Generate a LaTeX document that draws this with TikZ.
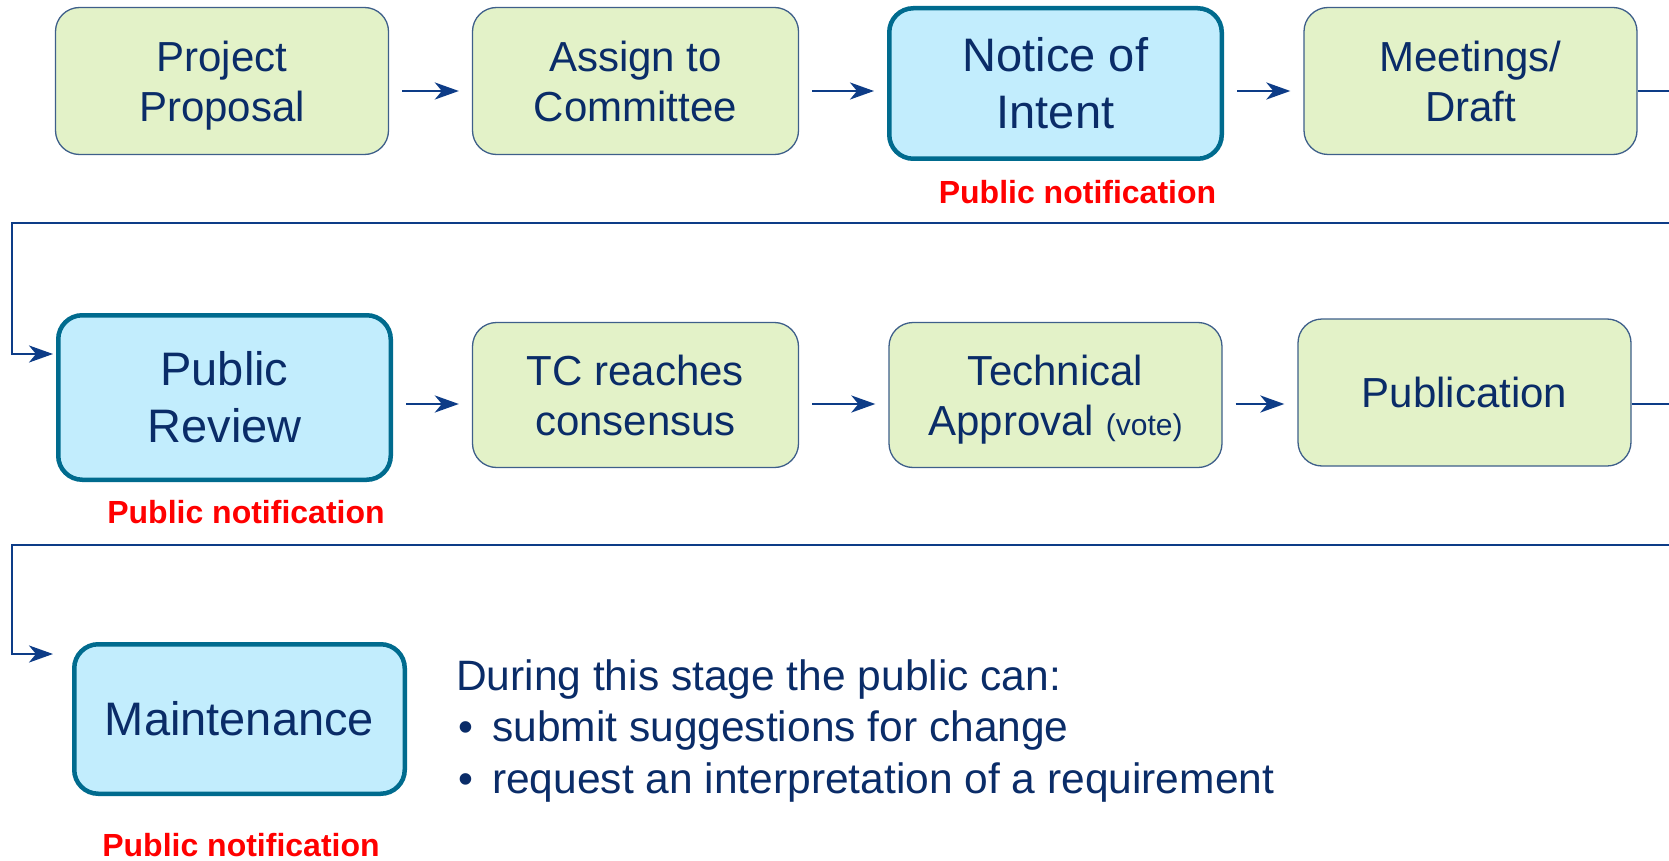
\documentclass[tikz,border=0pt]{standalone}
\usepackage{fontspec}
\setmainfont{Liberation Sans}
\usepackage{tikz}
\usetikzlibrary{arrows.meta}
\definecolor{stagegreen}{HTML}{E3F2C8}
\definecolor{stageline}{HTML}{3E5F8A}
\definecolor{pubblue}{HTML}{C2EDFD}
\definecolor{publine}{HTML}{006B8E}
\definecolor{navytext}{HTML}{0A2C68}
\definecolor{flowblue}{HTML}{0D3C87}

\begin{document}
\begin{tikzpicture}[x=1pt,y=-1pt,
	stage/.style={draw=stageline, line width=1.3pt, fill=stagegreen, rounded corners=24pt, minimum width=333pt, minimum height=147pt, inner sep=0pt, align=center, text=navytext, font=\fontsize{42}{50}\selectfont},
	pubstage/.style={stage, draw=publine, line width=4.5pt, fill=pubblue, font=\fontsize{47}{57}\selectfont},
	notif/.style={text=red, inner sep=0pt, font=\bfseries\fontsize{32}{37}\selectfont},
	flow/.style={draw=flowblue, line width=2.8pt, -{Stealth[length=24pt,width=17pt,inset=7pt]}},
	hop/.style={shorten <=13pt, shorten >=13pt}]
	\clip (0,0) rectangle (1669,861);
	% First row
	\node[stage, minimum width=333pt] (prop) at (222,81) {Project\\\smash{Proposal}};
	\node[stage, minimum width=326pt] (assign) at (635.5,81) {Assign to\\Committee};
	\node[pubstage, minimum width=332.5pt, minimum height=150.5pt] (notice) at (1055.5,83.5) {Notice of\\Intent};
	\node[stage] (meet) at (1470.5,81) {Meetings/\\Draft};
	% Second row
	\node[pubstage, minimum width=332.5pt, minimum height=164.5pt] (review) at (224.5,397.5) {Public\\Review};
	\node[stage, minimum width=326pt, minimum height=145pt] (tc) at (635.5,395) {TC reaches\\consensus};
	\node[stage, minimum height=145pt] (tech) at (1055.5,395) {Technical\\\smash{Approval {\fontsize{30}{36}\selectfont(vote)}}};
	\node[stage] (pub) at (1464.5,392.5) {Publication};
	% Third row
	\node[pubstage, minimum width=330.5pt, minimum height=149.5pt] (maint) at (239.5,719) {Maintenance};
	\node[anchor=north west, inner sep=0pt, align=left, text=navytext, font=\fontsize{42.5}{51.5}\selectfont] (remarks) at (456,659) {During this stage the public can:\\\makebox[36pt][l]{\hspace{2pt}•}submit suggestions for change\\\makebox[36pt][l]{\hspace{2pt}•}request an interpretation of a requirement};
	% Notifications
	\node[notif] (note1) at (1077.5,192) {Public notification};
	\node[notif] (note2) at (246,512) {Public notification};
	\node[notif] (note3) at (241,845) {Public notification};
	% Arrows
	\coordinate (lane1) at (0,91);
	\coordinate (lane2) at (0,404);
	\draw[flow, hop] (prop.east |- lane1) -- (assign.west |- lane1);
	\draw[flow, hop] (assign.east |- lane1) -- (notice.west |- lane1);
	\draw[flow, hop] (notice.east |- lane1) -- (meet.west |- lane1);
	\draw[flow, hop] (review.east |- lane2) -- (tc.west |- lane2);
	\draw[flow, hop] (tc.east |- lane2) -- (tech.west |- lane2);
	\draw[flow, hop] (tech.east |- lane2) -- (pub.west |- lane2);
	% Row returns
	\coordinate (out1) at (1700,91);
	\coordinate (ret1) at (12,223);
	\coordinate (in2) at (53,354);
	\draw[flow] (meet.east |- lane1) -- (out1) |- (ret1) |- (in2);
	\coordinate (out2) at (1700,404);
	\coordinate (ret2) at (12,545);
	\coordinate (in3) at (53,654);
	\draw[flow] (pub.east |- lane2) -- (out2) |- (ret2) |- (in3);
\end{tikzpicture}
\end{document}
